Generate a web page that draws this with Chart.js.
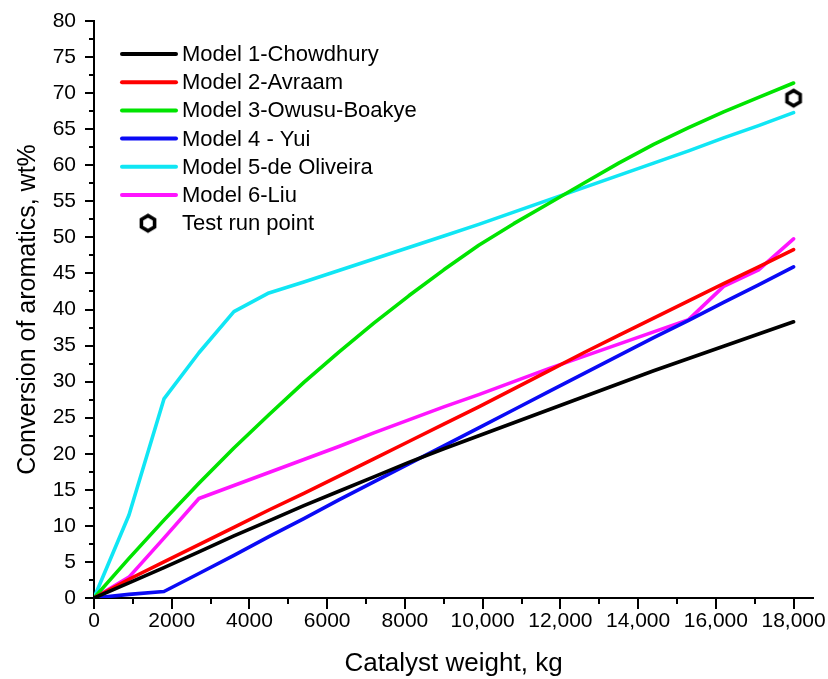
<!DOCTYPE html>
<html>
<head>
<meta charset="utf-8">
<script src="https://cdn.jsdelivr.net/npm/chart.js@4/dist/chart.umd.min.js"></script>
<style>
  html, body { margin: 0; padding: 0; background: #ffffff; }
  #wrap { width: 828px; height: 679px; }
</style>
</head>
<body>
<div id="wrap"><canvas id="c" width="828" height="679"></canvas></div>
<script>
// ---------- DATA ----------
const catalystWeight = [0, 900, 1800, 2700, 3600, 4500, 5400, 6300, 7200, 8100, 9000,
                        9900, 10800, 11700, 12600, 13500, 14400, 15300, 16200, 17100, 18000];
const model1Chowdhury   = [0, 2.1, 4.2, 6.4, 8.6, 10.7, 12.8, 14.8, 16.8, 18.8, 20.7,
                           22.5, 24.3, 26.1, 27.9, 29.7, 31.5, 33.2, 34.9, 36.6, 38.3];
const model2Avraam      = [0, 2.6, 5.0, 7.4, 9.8, 12.2, 14.5, 16.9, 19.3, 21.7, 24.1,
                           26.5, 29.0, 31.5, 34.0, 36.4, 38.8, 41.2, 43.6, 45.9, 48.3];
const model3OwusuBoakye = [0, 5.5, 10.8, 15.9, 20.8, 25.4, 29.9, 34.1, 38.1, 41.9, 45.5,
                           48.9, 51.9, 54.7, 57.5, 60.3, 62.9, 65.2, 67.4, 69.4, 71.4];
const model4Yui         = [0, 0.5, 0.9, 3.4, 5.9, 8.5, 11.0, 13.6, 16.1, 18.6, 21.1,
                           23.6, 26.1, 28.6, 31.1, 33.6, 36.1, 38.5, 41.0, 43.4, 45.9];
const model5DeOliveira  = [0, 11.5, 27.6, 34.0, 39.7, 42.3, 43.8, 45.4, 47.0, 48.6, 50.2,
                           51.8, 53.5, 55.2, 56.9, 58.6, 60.3, 62.0, 63.8, 65.5, 67.3];
const model6Liu         = [0, 2.9, 8.3, 13.8, 15.6, 17.4, 19.2, 21.0, 22.9, 24.7, 26.5,
                           28.2, 30.0, 31.8, 33.5, 35.2, 36.9, 38.6, 43.2, 45.5, 49.8];
const testRunX = [18000];
const testRunY = [69.3];

const seriesLabels = ['Model 1-Chowdhury', 'Model 2-Avraam', 'Model 3-Owusu-Boakye',
                      'Model 4 - Yui', 'Model 5-de Oliveira', 'Model 6-Liu'];
const testRunLabel = 'Test run point';

const xTickValues = [0, 2000, 4000, 6000, 8000, 10000, 12000, 14000, 16000, 18000];
const yTickValues = [0, 5, 10, 15, 20, 25, 30, 35, 40, 45, 50, 55, 60, 65, 70, 75, 80];
const xTitle = 'Catalyst weight, kg';
const yTitle = 'Conversion of aromatics, wt%';

// ---------- STYLE ----------
const FONT = "'Liberation Sans', Arial, Helvetica, sans-serif";
const seriesColors = ['#000000', '#ff0000', '#00e400', '#0a0af5', '#10e6f4', '#ff14ff'];

// hexagon marker image
function makeHexagon(size, r, lw) {
  const cv = document.createElement('canvas');
  cv.width = size; cv.height = size;
  const g = cv.getContext('2d');
  const c = size / 2;
  g.beginPath();
  for (let k = 0; k < 6; k++) {
    const a = -Math.PI / 2 + k * Math.PI / 3;
    const px = c + r * Math.cos(a), py = c + r * Math.sin(a);
    if (k === 0) g.moveTo(px, py); else g.lineTo(px, py);
  }
  g.closePath();
  g.fillStyle = '#ffffff';
  g.fill();
  g.lineWidth = lw;
  g.lineJoin = 'miter';
  g.strokeStyle = '#000000';
  g.stroke();
  return cv;
}
const hexImg = makeHexagon(24, 7.6, 3.6);

const seriesData = [model1Chowdhury, model2Avraam, model3OwusuBoakye, model4Yui, model5DeOliveira, model6Liu];
const datasets = seriesData.map((arr, i) => ({
  label: seriesLabels[i],
  data: catalystWeight.map((x, j) => ({ x: x, y: arr[j] })),
  borderColor: seriesColors[i],
  backgroundColor: seriesColors[i],
  borderWidth: 3.6,
  borderCapStyle: 'round',
  borderJoinStyle: 'round',
  pointRadius: 0,
  tension: 0,
  fill: false
}));
datasets.push({
  label: testRunLabel,
  data: testRunX.map((x, j) => ({ x: x, y: testRunY[j] })),
  showLine: false,
  pointStyle: hexImg,
  pointRadius: 10,
  borderColor: '#000',
  backgroundColor: '#fff',
  isMarker: true
});

// ---------- PLUGINS ----------
const tickMarksPlugin = {
  id: 'tickMarks',
  afterDraw(chart) {
    const ctx = chart.ctx;
    const xs = chart.scales.x, ys = chart.scales.y;
    const area = chart.chartArea;
    ctx.save();
    ctx.strokeStyle = '#000';
    ctx.lineWidth = 2;
    ctx.beginPath();
    for (let i = 0; i < xTickValues.length; i++) {
      const v = xTickValues[i];
      const px = Math.round(xs.getPixelForValue(v));
      ctx.moveTo(px, area.bottom); ctx.lineTo(px, area.bottom + 11);
      if (i < xTickValues.length - 1) {
        const m = (v + xTickValues[i + 1]) / 2;
        const pm = Math.round(xs.getPixelForValue(m));
        ctx.moveTo(pm, area.bottom); ctx.lineTo(pm, area.bottom + 6);
      }
    }
    for (let i = 0; i < yTickValues.length; i++) {
      const v = yTickValues[i];
      const py = Math.round(ys.getPixelForValue(v));
      ctx.moveTo(area.left, py); ctx.lineTo(area.left - 9, py);
      if (i < yTickValues.length - 1) {
        const m = (v + yTickValues[i + 1]) / 2;
        const pm = Math.round(ys.getPixelForValue(m));
        ctx.moveTo(area.left, pm); ctx.lineTo(area.left - 5, pm);
      }
    }
    ctx.stroke();
    ctx.restore();
  }
};

const legendPlugin = {
  id: 'customLegend',
  afterDraw(chart) {
    const ctx = chart.ctx;
    const x0 = 122, x1 = 176, xText = 182, yTop = 54, row = 28.2;
    ctx.save();
    ctx.font = '22px ' + FONT;
    ctx.textBaseline = 'middle';
    ctx.textAlign = 'left';
    chart.data.datasets.forEach((ds, i) => {
      const y = yTop + i * row;
      if (ds.isMarker) {
        ctx.drawImage(ds.pointStyle, 148 - ds.pointStyle.width / 2, y - ds.pointStyle.height / 2);
      } else {
        ctx.strokeStyle = ds.borderColor;
        ctx.lineWidth = 4;
        ctx.lineCap = 'round';
        ctx.beginPath();
        ctx.moveTo(x0, y); ctx.lineTo(x1, y);
        ctx.stroke();
      }
      ctx.fillStyle = '#000';
      ctx.fillText(ds.label, xText, y + 1);
    });
    ctx.restore();
  }
};

Chart.defaults.font.family = FONT;
Chart.defaults.color = '#000';

new Chart(document.getElementById('c'), {
  type: 'line',
  data: { datasets: datasets },
  plugins: [tickMarksPlugin, legendPlugin],
  options: {
    responsive: false,
    animation: false,
    devicePixelRatio: 1,
    layout: { padding: { left: 0, right: 15, top: 21, bottom: 0 } },
    plugins: { legend: { display: false }, tooltip: { enabled: false } },
    scales: {
      x: {
        type: 'linear',
        min: 0,
        max: 18500,
        afterBuildTicks(scale) { scale.ticks = xTickValues.map(v => ({ value: v })); },
        afterFit(scale) { scale.height = 81; scale.paddingLeft = 0; scale.paddingRight = 0; },
        grid: { display: false, drawTicks: false },
        border: { display: true, color: '#000', width: 2 },
        ticks: {
          autoSkip: false,
          maxRotation: 0,
          padding: 11,
          font: { size: 21 },
          color: '#000',
          callback: (v) => v >= 10000 ? v.toLocaleString('en-US') : String(v)
        },
        title: {
          display: true,
          text: xTitle,
          font: { size: 26, lineHeight: 1.15 },
          padding: { top: 0, bottom: 0 },
          color: '#000'
        }
      },
      y: {
        type: 'linear',
        min: 0,
        max: 80,
        afterBuildTicks(scale) { scale.ticks = yTickValues.map(v => ({ value: v })); },
        afterFit(scale) { scale.width = 94; scale.paddingTop = 0; scale.paddingBottom = 0; },
        grid: { display: false, drawTicks: false },
        border: { display: true, color: '#000', width: 2 },
        ticks: {
          autoSkip: false,
          padding: 18,
          font: { size: 21 },
          color: '#000',
          callback: (v) => String(v)
        },
        title: {
          display: true,
          text: yTitle,
          font: { size: 25, lineHeight: 1.15 },
          padding: { top: 14, bottom: 0 },
          color: '#000'
        }
      }
    }
  }
});
</script>
</body>
</html>
